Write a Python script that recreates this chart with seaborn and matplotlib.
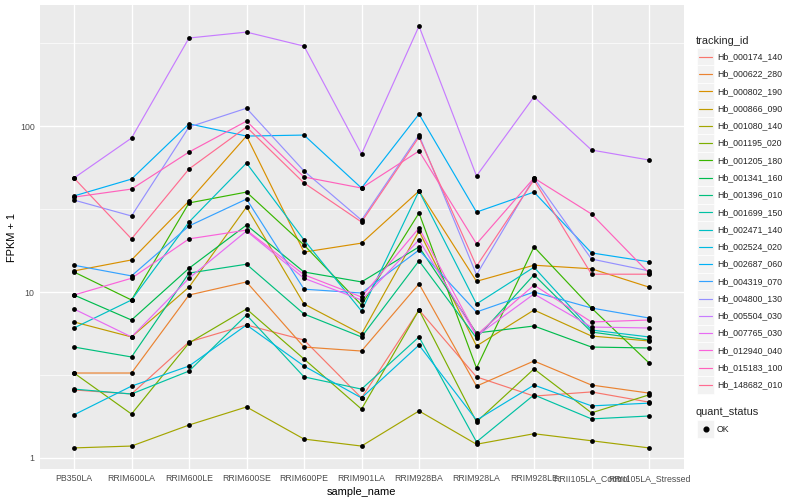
import numpy as np
import pandas as pd
import seaborn as sns
import matplotlib.pyplot as plt
from matplotlib.patches import Rectangle
from matplotlib.lines import Line2D
from matplotlib.ticker import FixedLocator, NullFormatter

sample_names = ['PB350LA', 'RRIM600LA', 'RRIM600LE', 'RRIM600SE', 'RRIM600PE', 'RRIM901LA',
                'RRIM928BA', 'RRIM928LA', 'RRIM928LE', 'RRII105LA_Control', 'RRII105LA_Stressed']

tracking_ids = ['Hb_000174_140', 'Hb_000622_280', 'Hb_000802_190', 'Hb_000866_090',
                'Hb_001080_140', 'Hb_001195_020', 'Hb_001205_180', 'Hb_001341_160',
                'Hb_001396_010', 'Hb_001699_150', 'Hb_002471_140', 'Hb_002524_020',
                'Hb_002687_060', 'Hb_004319_070', 'Hb_004800_130', 'Hb_005504_030',
                'Hb_007765_030', 'Hb_012940_040', 'Hb_015183_100', 'Hb_148682_010']

# ggplot default hue palette for 20 levels
hue_colors = ['#F8766D', '#EA8331', '#D89000', '#C09B00', '#A3A500', '#7CAE00', '#39B600',
              '#00BB4E', '#00BF7D', '#00C1A3', '#00BFC4', '#00BAE0', '#00B0F6', '#35A2FF',
              '#9590FF', '#C77CFF', '#E76BF3', '#FA62DB', '#FF62BC', '#FF6C91']

# FPKM + 1 per gene, one value per sample (same order as sample_names)
hb_000174_140 = [2.57, 2.43, 5.00, 6.33, 5.14, 2.30, 7.79, 3.08, 2.36, 2.50, 2.17]
hb_000622_280 = [3.25, 3.25, 9.59, 11.5, 4.66, 4.41, 11.2, 2.71, 3.84, 2.75, 2.46]
hb_000802_190 = [13.4, 15.6, 35.3, 87.0, 17.4, 19.7, 40.6, 11.6, 14.5, 13.8, 10.7]
hb_000866_090 = [6.60, 5.36, 10.7, 32.5, 8.47, 5.58, 23.3, 4.73, 7.79, 5.43, 5.07]
hb_001080_140 = [1.15, 1.18, 1.58, 2.03, 1.30, 1.18, 1.92, 1.21, 1.40, 1.27, 1.15]
hb_001195_020 = [3.25, 1.84, 4.93, 7.90, 3.95, 1.97, 7.79, 1.65, 3.44, 1.87, 2.40]
hb_001205_180 = [13.2, 8.95, 34.4, 40.0, 19.2, 8.35, 29.9, 3.48, 18.7, 8.01, 3.74]
hb_001341_160 = [9.59, 6.78, 13.9, 25.3, 13.2, 11.5, 18.7, 5.66, 6.24, 4.66, 4.60]
hb_001396_010 = [4.66, 4.06, 13.0, 14.7, 7.37, 5.36, 15.4, 5.28, 12.7, 5.74, 5.14]
hb_001699_150 = [2.60, 2.43, 3.34, 7.27, 3.08, 2.60, 5.36, 1.25, 2.40, 1.72, 1.79]
hb_002471_140 = [6.07, 8.95, 26.4, 59.8, 20.6, 7.68, 40.6, 8.47, 14.1, 5.90, 5.36]
hb_002524_020 = [1.82, 2.71, 3.58, 6.33, 3.58, 2.30, 4.79, 1.69, 2.75, 2.06, 2.14]
hb_002687_060 = [37.9, 47.9, 103, 87.0, 88.2, 42.3, 118, 30.3, 40.0, 17.2, 15.2]
hb_004319_070 = [14.5, 12.5, 25.0, 36.3, 10.4, 9.86, 17.9, 7.58, 10.0, 8.01, 6.97]
hb_004800_130 = [35.8, 28.7, 98.6, 128, 53.6, 27.1, 88.2, 12.7, 48.6, 15.8, 13.4]
hb_005504_030 = [48.6, 84.6, 339, 368, 303, 67.8, 400, 50.0, 150, 71.7, 62.4]
hb_007765_030 = [7.90, 5.36, 12.1, 23.3, 12.1, 8.95, 20.6, 5.43, 9.73, 6.15, 6.07]
hb_012940_040 = [9.59, 12.1, 20.9, 23.6, 12.7, 9.33, 24.3, 5.51, 11.0, 6.60, 6.78]
hb_015183_100 = [37.3, 41.7, 69.7, 107, 49.3, 42.3, 70.7, 19.5, 48.6, 29.5, 13.0]
hb_148682_010 = [48.6, 20.9, 55.1, 98.6, 45.4, 26.4, 85.8, 14.3, 47.3, 12.8, 12.8]

gene_values = [hb_000174_140, hb_000622_280, hb_000802_190, hb_000866_090, hb_001080_140,
               hb_001195_020, hb_001205_180, hb_001341_160, hb_001396_010, hb_001699_150,
               hb_002471_140, hb_002524_020, hb_002687_060, hb_004319_070, hb_004800_130,
               hb_005504_030, hb_007765_030, hb_012940_040, hb_015183_100, hb_148682_010]

rows = []
for tid, vals in zip(tracking_ids, gene_values):
    for s, v in zip(sample_names, vals):
        rows.append({'tracking_id': tid, 'sample_name': s, 'fpkm': v, 'quant_status': 'OK'})
df = pd.DataFrame(rows)
df['sample_name'] = pd.Categorical(df['sample_name'], categories=sample_names, ordered=True)
df['x'] = df['sample_name'].cat.codes

sns.set_theme(style='darkgrid')
plt.rcParams['font.family'] = ['Liberation Sans', 'DejaVu Sans']
plt.rcParams['axes.facecolor'] = '#EBEBEB'
plt.rcParams['grid.color'] = 'white'

W, H = 800, 500
fig = plt.figure(figsize=(8, 5), dpi=100)
fig.patch.set_facecolor('white')
ax = fig.add_axes([39.5 / W, 31 / H, 644 / W, 464 / H])

palette = dict(zip(tracking_ids, hue_colors))
sns.lineplot(data=df, x='x', y='fpkm', hue='tracking_id', hue_order=tracking_ids,
             palette=palette, linewidth=0.85, estimator=None, sort=False,
             legend=False, ax=ax)
sns.scatterplot(data=df, x='x', y='fpkm', color='black', s=12, linewidth=0,
                marker='o', legend=False, ax=ax, zorder=5)

ax.set_yscale('log')
lo, hi = np.log10(df['fpkm'].min()), np.log10(df['fpkm'].max())
pad = 0.05 * (hi - lo)
ax.set_ylim(10 ** (lo - pad), 10 ** (hi + pad))
ax.set_xlim(-0.6, len(sample_names) - 0.4)

ax.yaxis.set_major_locator(FixedLocator([1, 10, 100]))
ax.set_yticklabels(['1', '10', '100'])
ax.yaxis.set_minor_locator(FixedLocator([10 ** 0.5, 10 ** 1.5, 10 ** 2.5]))
ax.yaxis.set_minor_formatter(NullFormatter())
ax.set_xticks(range(len(sample_names)))
ax.set_xticklabels(sample_names)

ax.grid(which='major', color='white', linewidth=1.0)
ax.grid(which='minor', axis='y', color='white', linewidth=0.5)
ax.set_axisbelow(True)
for sp in ax.spines.values():
    sp.set_visible(False)

ax.tick_params(axis='both', which='major', length=2.0, width=0.5, color='#333333',
               labelsize=6.3, labelcolor='#4D4D4D', pad=1.5)
ax.tick_params(axis='both', which='minor', length=0)
ax.set_xlabel('sample_name', fontsize=7.9, color='black', labelpad=3)
ax.set_ylabel('FPKM + 1', fontsize=7.9, color='black', labelpad=2)

# legend, drawn like ggplot's guide boxes
def fx(px):
    return px / W

def fy(py):
    return 1 - py / H

fig.text(fx(696), fy(40.7), 'tracking_id', fontsize=7.9, va='center', ha='left')
key = 17.28
for i, (tid, col) in enumerate(zip(tracking_ids, hue_colors)):
    yc = 56.7 + i * key
    fig.add_artist(Rectangle((fx(697), fy(yc + key / 2)), key / W, key / H,
                             transform=fig.transFigure, facecolor='#F2F2F2',
                             edgecolor='white', linewidth=0.5))
    fig.add_artist(Line2D([fx(699), fx(712)], [fy(yc), fy(yc)], color=col,
                          linewidth=0.85, transform=fig.transFigure))
    fig.text(fx(717), fy(yc), tid, fontsize=6.3, va='center', ha='left')

fig.text(fx(696), fy(412), 'quant_status', fontsize=7.9, va='center', ha='left')
yc = 429
fig.add_artist(Rectangle((fx(697), fy(yc + key / 2)), key / W, key / H,
                         transform=fig.transFigure, facecolor='#F2F2F2',
                         edgecolor='white', linewidth=0.5))
fig.add_artist(Line2D([fx(705.6)], [fy(yc)], marker='o', markersize=3.4, color='black',
                      linestyle='none', transform=fig.transFigure))
fig.text(fx(717), fy(yc), 'OK', fontsize=6.3, va='center', ha='left')

fig.savefig('out.png', dpi=100)
